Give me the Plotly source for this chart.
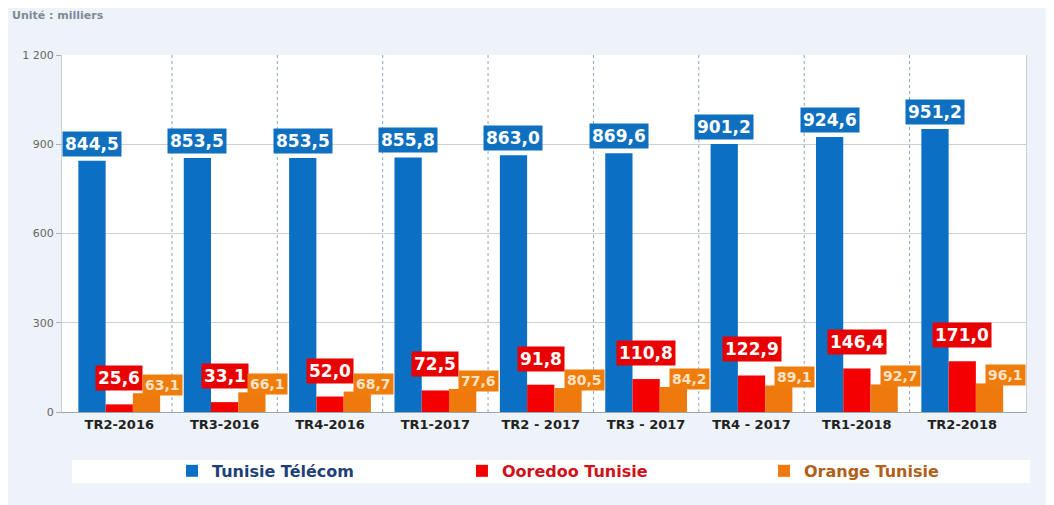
import plotly.graph_objects as go

categories = ["TR2-2016", "TR3-2016", "TR4-2016", "TR1-2017", "TR2 - 2017",
              "TR3 - 2017", "TR4 - 2017", "TR1-2018", "TR2-2018"]
tunisie_telecom = [844.5, 853.5, 853.5, 855.8, 863.0, 869.6, 901.2, 924.6, 951.2]
ooredoo = [25.6, 33.1, 52.0, 72.5, 91.8, 110.8, 122.9, 146.4, 171.0]
orange = [63.1, 66.1, 68.7, 77.6, 80.5, 84.2, 89.1, 92.7, 96.1]
y_ticks = [0, 300, 600, 900, 1200]
y_ticktext = ["0", "300", "600", "900", "1 200"]

series = [
    ("Tunisie Télécom", tunisie_telecom, "#0b6fc4", "#1f3f78"),
    ("Ooredoo Tunisie", ooredoo, "#f40000", "#d0101a"),
    ("Orange Tunisie", orange, "#ee7a0e", "#b0601a"),
]
legend_ids = ["legend", "legend2", "legend3"]
legend_x = [0.1141, 0.4149, 0.7282]

FONT = "DejaVu Sans"
BARGAP = 0.224
bar_w = (1 - BARGAP) / 3

fig = go.Figure()
for k, (name, vals, col, tcol) in enumerate(series):
    fig.add_trace(go.Bar(
        x=categories, y=vals, marker_color=col, marker_line_width=0,
        name=f"<b><span style='color:{tcol}'>{name}</span></b>",
        legend=legend_ids[k], showlegend=True,
    ))

def fmt(v):
    return f"{v:.1f}".replace(".", ",")

annotations = []
label_styles = [
    # (box colour, text colour, font size, xshift, yshift)
    ("#1070c0", "white", 17, 0, 17),
    ("#e80000", "white", 17, 0, 26),
    ("#ef7d0c", "#fde2c6", 14, 16, 8),
]
for k, (name, vals, col, tcol) in enumerate(series):
    bg, fc, fs, xs, ys = label_styles[k]
    for i, v in enumerate(vals):
        annotations.append(dict(
            x=i + (k - 1) * bar_w, y=v, xref="x", yref="y",
            text=f"<b>{fmt(v)}</b>", showarrow=False,
            font=dict(family=FONT, size=fs, color=fc),
            bgcolor=bg, borderpad=2, xshift=xs, yshift=ys,
            yanchor="middle", xanchor="center",
        ))

annotations.append(dict(
    x=0, y=1, xref="paper", yref="paper", xanchor="left", yanchor="middle",
    xshift=-52, yshift=40, text="<b>Unité : milliers</b>", showarrow=False,
    font=dict(family=FONT, size=11, color="#7d8a97"),
))

shapes = []
for i in range(len(categories) - 1):
    shapes.append(dict(
        type="line", xref="x", yref="paper", x0=i + 0.5, x1=i + 0.5, y0=0, y1=1,
        line=dict(color="#8fa6bd", width=1, dash="dot"), layer="above",
    ))
# white legend band
shapes.append(dict(
    type="rect", xref="paper", yref="paper", x0=0.0104, x1=1.004,
    y0=-0.199, y1=-0.1345, fillcolor="white", line_width=0, layer="below",
))

legend_common = dict(
    orientation="h", xanchor="left", y=-0.165, yanchor="middle",
    font=dict(family=FONT, size=16), bgcolor="rgba(0,0,0,0)", itemclick=False,
)

fig.update_layout(
    width=1046, height=497,
    margin=dict(l=54, r=28, t=47, b=93),
    paper_bgcolor="#edf3f9", plot_bgcolor="white",
    barmode="group", bargap=BARGAP, bargroupgap=0,
    font=dict(family=FONT),
    showlegend=True,
    annotations=annotations, shapes=shapes,
    legend=dict(x=legend_x[0], **legend_common),
    legend2=dict(x=legend_x[1], **legend_common),
    legend3=dict(x=legend_x[2], **legend_common),
    xaxis=dict(
        showgrid=False, showline=True, linecolor="#9aa6b2", mirror=False,
        tickfont=dict(family=FONT, size=13, color="#222222"),
        ticks="", tickprefix="<b>", ticksuffix="</b>",
    ),
    yaxis=dict(
        range=[0, 1200], tickvals=y_ticks, ticktext=y_ticktext,
        showgrid=True, gridcolor="#cfcfcf", gridwidth=1,
        showline=True, linecolor="#c8d0d8", mirror=True,
        ticks="outside", ticklen=5, tickcolor="#b0b0b0",
        tickfont=dict(family=FONT, size=11, color="#666666"),
        zeroline=False,
    ),
)

fig.write_html("out.html")
